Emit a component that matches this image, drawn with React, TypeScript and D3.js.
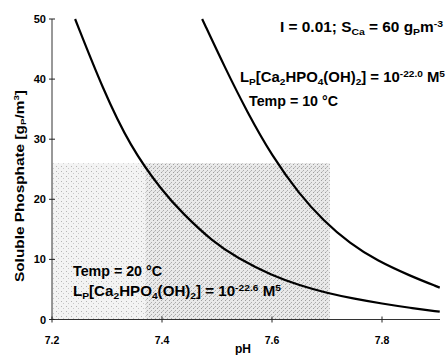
import React from "react";
import * as d3 from "d3";

const xTicks = [7.2, 7.4, 7.6, 7.8];
const yTicks = [0, 10, 20, 30, 40, 50];

// Lp = 10^-22.6, Temp = 20 °C (left curve)
const curve20pH = [7.242, 7.293, 7.342, 7.4, 7.438, 7.493, 7.536, 7.6, 7.65, 7.7, 7.75, 7.8, 7.85, 7.905];
const curve20P = [50, 38.2, 28.8, 21.4, 17.6, 12.9, 10.3, 7.3, 5.7, 4.4, 3.45, 2.65, 1.95, 1.3];

// Lp = 10^-22.0, Temp = 10 °C (right curve)
const curve10pH = [7.473, 7.515, 7.555, 7.6, 7.65, 7.693, 7.742, 7.791, 7.85, 7.905];
const curve10P = [50, 41.8, 34.5, 27.2, 20.8, 16.5, 12.6, 9.8, 7.3, 5.3];

const W = 448;
const H = 355;
const FONT = "'Liberation Sans', Arial, sans-serif";

export default function App() {
  const x = d3.scaleLinear().domain([7.2, 7.9]).range([52, 437]);
  const y = d3.scaleLinear().domain([0, 50]).range([319.5, 19]);
  const line = d3
    .line<[number, number]>()
    .x((d) => x(d[0]))
    .y((d) => y(d[1]))
    .curve(d3.curveBasis);
  const d20 = line(curve20pH.map((p, i) => [p, curve20P[i]] as [number, number])) || "";
  const d10 = line(curve10pH.map((p, i) => [p, curve10P[i]] as [number, number])) || "";

  const x0 = x(7.2);
  const x1 = x(7.9) + 3;
  const shadeTop = y(26);
  const shadeRight = x(7.705);
  const shadeMid = x(7.37);

  const lp = (exp: string) => [
    "L",
    <tspan key="a" fontSize={9.5} dy={3}>P</tspan>,
    <tspan key="b" dy={-3}>[Ca</tspan>,
    <tspan key="c" fontSize={9.5} dy={3}>2</tspan>,
    <tspan key="d" dy={-3}>HPO</tspan>,
    <tspan key="e" fontSize={9.5} dy={3}>4</tspan>,
    <tspan key="f" dy={-3}>(OH)</tspan>,
    <tspan key="g" fontSize={9.5} dy={3}>2</tspan>,
    <tspan key="h" dy={-3}>] = 10</tspan>,
    <tspan key="i" fontSize={9.5} dy={-5}>{exp}</tspan>,
    <tspan key="j" dy={5}> M</tspan>,
    <tspan key="k" fontSize={9.5} dy={-5}>5</tspan>,
  ];

  return (
    <svg width={W} height={H} style={{ position: "absolute", left: 0, top: 0, background: "#fff" }}>
      <defs>
        <pattern id="stip1" width="5" height="5" patternUnits="userSpaceOnUse">
          <rect width="5" height="5" fill="#f3f3f3" />
          <rect x="1" y="1" width="1" height="1" fill="#b4b4b4" />
          <rect x="3" y="3" width="1" height="1" fill="#c8c8c8" />
        </pattern>
        <pattern id="stip2" width="4" height="4" patternUnits="userSpaceOnUse">
          <rect width="4" height="4" fill="#e9e9e9" />
          <rect x="1" y="0" width="1" height="1" fill="#9e9e9e" />
          <rect x="3" y="2" width="1" height="1" fill="#acacac" />
          <rect x="2" y="3" width="1" height="1" fill="#c0c0c0" />
        </pattern>
      </defs>
      <rect x={x0} y={shadeTop} width={shadeMid - x0} height={y(0) - shadeTop} fill="url(#stip1)" />
      <rect x={shadeMid} y={shadeTop} width={shadeRight - shadeMid} height={y(0) - shadeTop} fill="url(#stip2)" />

      {/* axes */}
      <line x1={x0} x2={x0} y1={y(50)} y2={y(0)} stroke="#333" strokeWidth={1} />
      <line x1={x0} x2={x1} y1={y(0)} y2={y(0)} stroke="#333" strokeWidth={1.2} />
      {yTicks.map((t) => (
        <g key={"y" + t}>
          <line x1={x0 - 3} x2={x0 + 3} y1={y(t)} y2={y(t)} stroke="#222" strokeWidth={1} />
          <text x={x0 - 6} y={y(t) + 4} textAnchor="end" fontFamily={FONT} fontWeight="bold" fontSize={11}>
            {t}
          </text>
        </g>
      ))}
      {xTicks.map((t) => (
        <g key={"x" + t}>
          <line x1={x(t)} x2={x(t)} y1={y(0) - 3} y2={y(0) + 3} stroke="#222" strokeWidth={1} />
          <text x={x(t)} y={y(0) + 24} textAnchor="middle" fontFamily={FONT} fontWeight="bold" fontSize={10.5}>
            {t.toFixed(1)}
          </text>
        </g>
      ))}

      {/* curves */}
      <path d={d20} fill="none" stroke="#000" strokeWidth={2.2} />
      <path d={d10} fill="none" stroke="#000" strokeWidth={2.2} />

      {/* axis titles */}
      <text x={243} y={353} textAnchor="middle" fontFamily={FONT} fontWeight="bold" fontSize={12}>
        pH
      </text>
      <text
        transform="translate(24,186) rotate(-90)"
        textAnchor="middle"
        fontFamily={FONT}
        fontWeight="bold"
        fontSize={12.5}
        textLength={192}
        lengthAdjust="spacingAndGlyphs"
      >
        Soluble Phosphate [g
        <tspan fontSize={8} dy={2}>P</tspan>
        <tspan dy={-2}>/m</tspan>
        <tspan fontSize={8} dy={-5}>3</tspan>
        <tspan dy={5}>]</tspan>
      </text>

      {/* annotations */}
      <text x={280} y={32} fontFamily={FONT} fontWeight="bold" fontSize={14} textLength={163} lengthAdjust="spacingAndGlyphs">
        I = 0.01; S
        <tspan fontSize={9.5} dy={3}>Ca</tspan>
        <tspan dy={-3}> = 60 g</tspan>
        <tspan fontSize={9.5} dy={3}>P</tspan>
        <tspan dy={-3}>m</tspan>
        <tspan fontSize={9.5} dy={-5}>-3</tspan>
      </text>

      <text x={240} y={82} fontFamily={FONT} fontWeight="bold" fontSize={14} textLength={205} lengthAdjust="spacingAndGlyphs">
        {lp("-22.0")}
      </text>
      <text x={249} y={106} fontFamily={FONT} fontWeight="bold" fontSize={14} textLength={89} lengthAdjust="spacingAndGlyphs">
        Temp = 10 °C
      </text>

      <text x={73} y={276} fontFamily={FONT} fontWeight="bold" fontSize={14} textLength={89} lengthAdjust="spacingAndGlyphs">
        Temp = 20 °C
      </text>
      <text x={73} y={296} fontFamily={FONT} fontWeight="bold" fontSize={14} textLength={208} lengthAdjust="spacingAndGlyphs">
        {lp("-22.6")}
      </text>
    </svg>
  );
}
